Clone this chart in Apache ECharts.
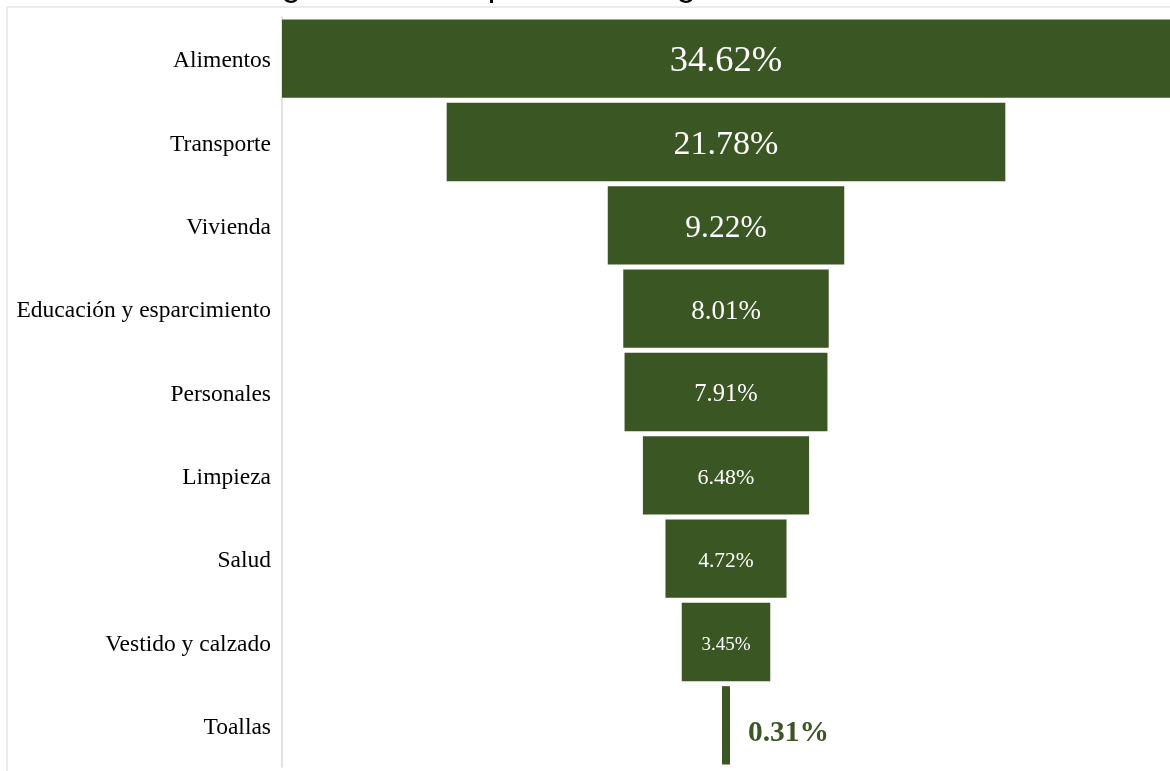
<!DOCTYPE html>
<html>
<head>
<meta charset="utf-8">
<script src="https://cdn.jsdelivr.net/npm/echarts@6/dist/echarts.min.js"></script>
<style>
  html, body { margin: 0; padding: 0; background: #ffffff; }
  #chart { width: 1170px; height: 771px; }
</style>
</head>
<body>
<div id="chart"></div>
<script>
// Expense categories, top to bottom
const categories = [
  'Alimentos',
  'Transporte',
  'Vivienda',
  'Educación y esparcimiento',
  'Personales',
  'Limpieza',
  'Salud',
  'Vestido y calzado',
  'Toallas'
];

// Share of total spending (%)
const shares = [34.62, 21.78, 9.22, 8.01, 7.91, 6.48, 4.72, 3.45, 0.31];

// Label font size for each bar (styling only)
const labelFontSizes = [36.5, 34, 31.5, 27, 24.5, 22, 21.5, 19, 29.5];

const barColor = '#3a5623';
const peak = Math.max(...shares);

// Invisible spacer that centres each bar to form a funnel
const spacer = shares.map(v => (peak - v) / 2);

const mainData = shares.map((v, i) => {
  const last = i === shares.length - 1;
  return {
    value: v,
    label: last
      ? {
          position: 'right',
          distance: 18,
          offset: [0, 8],
          color: barColor,
          fontWeight: 'bold',
          fontSize: labelFontSizes[i]
        }
      : { fontSize: labelFontSizes[i] }
  };
});

const chart = echarts.init(document.getElementById('chart'), null, { renderer: 'canvas' });

chart.setOption({
  animation: false,
  backgroundColor: '#ffffff',
  title: {
    text: 'Figura 12. Composición del gasto en el mes',
    left: 'center',
    top: -30,
    padding: 0,
    textStyle: {
      fontFamily: 'Liberation Sans',
      fontSize: 34,
      fontWeight: 'normal',
      color: '#000000'
    }
  },
  graphic: [
    {
      type: 'line',
      shape: { x1: 7, y1: 7, x2: 1170, y2: 7 },
      style: { stroke: '#e4e4e4', lineWidth: 1.5 },
      z: -1
    },
    {
      type: 'line',
      shape: { x1: 7, y1: 7, x2: 7, y2: 771 },
      style: { stroke: '#e4e4e4', lineWidth: 1.5 },
      z: -1
    }
  ],
  grid: { left: 282, right: -3, top: 17, bottom: 4, containLabel: false },
  xAxis: {
    type: 'value',
    min: 0,
    max: peak,
    show: false
  },
  yAxis: {
    type: 'category',
    data: categories,
    inverse: true,
    axisLine: { show: true, lineStyle: { color: '#d9d9d9', width: 1.5 } },
    axisTick: { show: false },
    splitLine: { show: false },
    axisLabel: {
      margin: 11,
      formatter: name => '{c|' + name + '}',
      rich: {
        c: {
          color: '#000000',
          fontFamily: 'Liberation Serif',
          fontSize: 23.5,
          padding: [5, 0, 0, 0]
        }
      }
    }
  },
  series: [
    {
      name: 'spacer',
      type: 'bar',
      stack: 'funnel',
      silent: true,
      itemStyle: { color: 'rgba(0,0,0,0)' },
      data: spacer,
      barCategoryGap: '6%'
    },
    {
      name: 'share',
      type: 'bar',
      stack: 'funnel',
      barCategoryGap: '6%',
      itemStyle: { color: barColor },
      label: {
        show: true,
        position: 'inside',
        offset: [0, 3],
        color: '#ffffff',
        fontFamily: 'Liberation Serif',
        formatter: p => p.value.toFixed(2) + '%'
      },
      data: mainData
    }
  ]
});
</script>
</body>
</html>
